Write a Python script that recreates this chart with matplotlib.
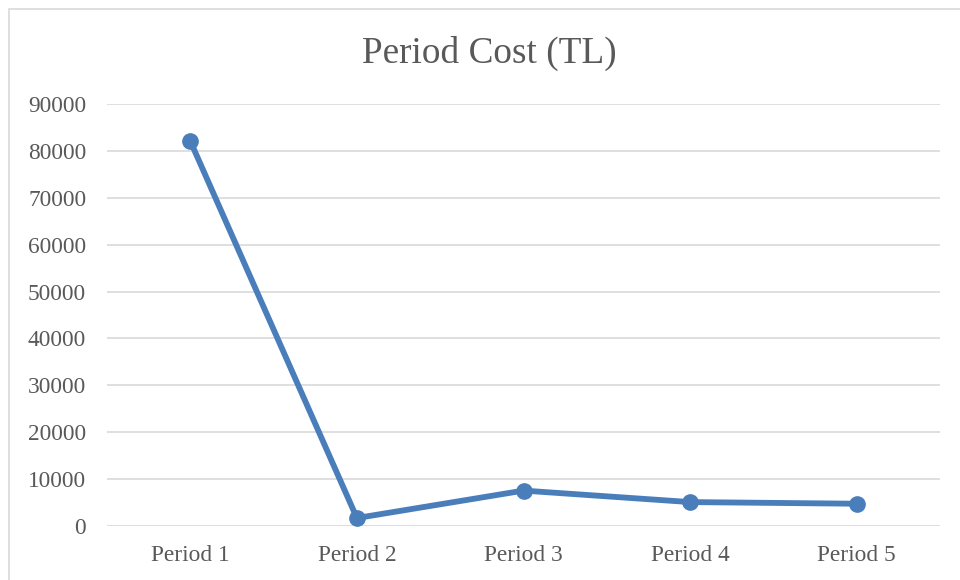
import matplotlib.pyplot as plt
from matplotlib.patches import Rectangle

periods = ["Period 1", "Period 2", "Period 3", "Period 4", "Period 5"]
cost = [82100, 1700, 7550, 5100, 4750]
yticks = list(range(0, 90001, 10000))

plt.rcParams['font.family'] = ['Liberation Serif', 'DejaVu Serif']

fig = plt.figure(figsize=(9.6, 5.8), dpi=100)
ax = fig.add_axes([107 / 960, 1 - 526 / 580, (940 - 107) / 960, (526 - 104) / 580])

x = list(range(len(periods)))
ax.plot(x, cost, color='#4A7EBB', lw=4.2, marker='o', ms=11, solid_capstyle='round', zorder=3)

ax.set_xlim(-0.5, len(periods) - 0.5)
ax.set_ylim(0, 90000)
ax.set_yticks(yticks)
ax.set_yticklabels([str(v) for v in yticks])
ax.set_xticks(x)
ax.set_xticklabels(periods)
ax.grid(axis='y', color='#D9D9D9', lw=1.2)
ax.set_axisbelow(True)
for s in ax.spines.values():
    s.set_visible(False)
ax.tick_params(length=0, labelsize=16.8, labelcolor='#595959')
ax.tick_params(axis='y', pad=15)
ax.tick_params(axis='x', pad=13.5)

fig.text(0.5 + 9 / 960, 1 - 53 / 580, "Period Cost (TL)", ha='center', va='center', fontsize=26.8, color='#595959')

# chart border
fig.patches.append(Rectangle((9 / 960, -0.1), 1.2, 1 - 8.5 / 580 + 0.1, transform=fig.transFigure,
                             fill=False, ec='#D9D9D9', lw=1.2))

fig.savefig('out.png', dpi=100)
